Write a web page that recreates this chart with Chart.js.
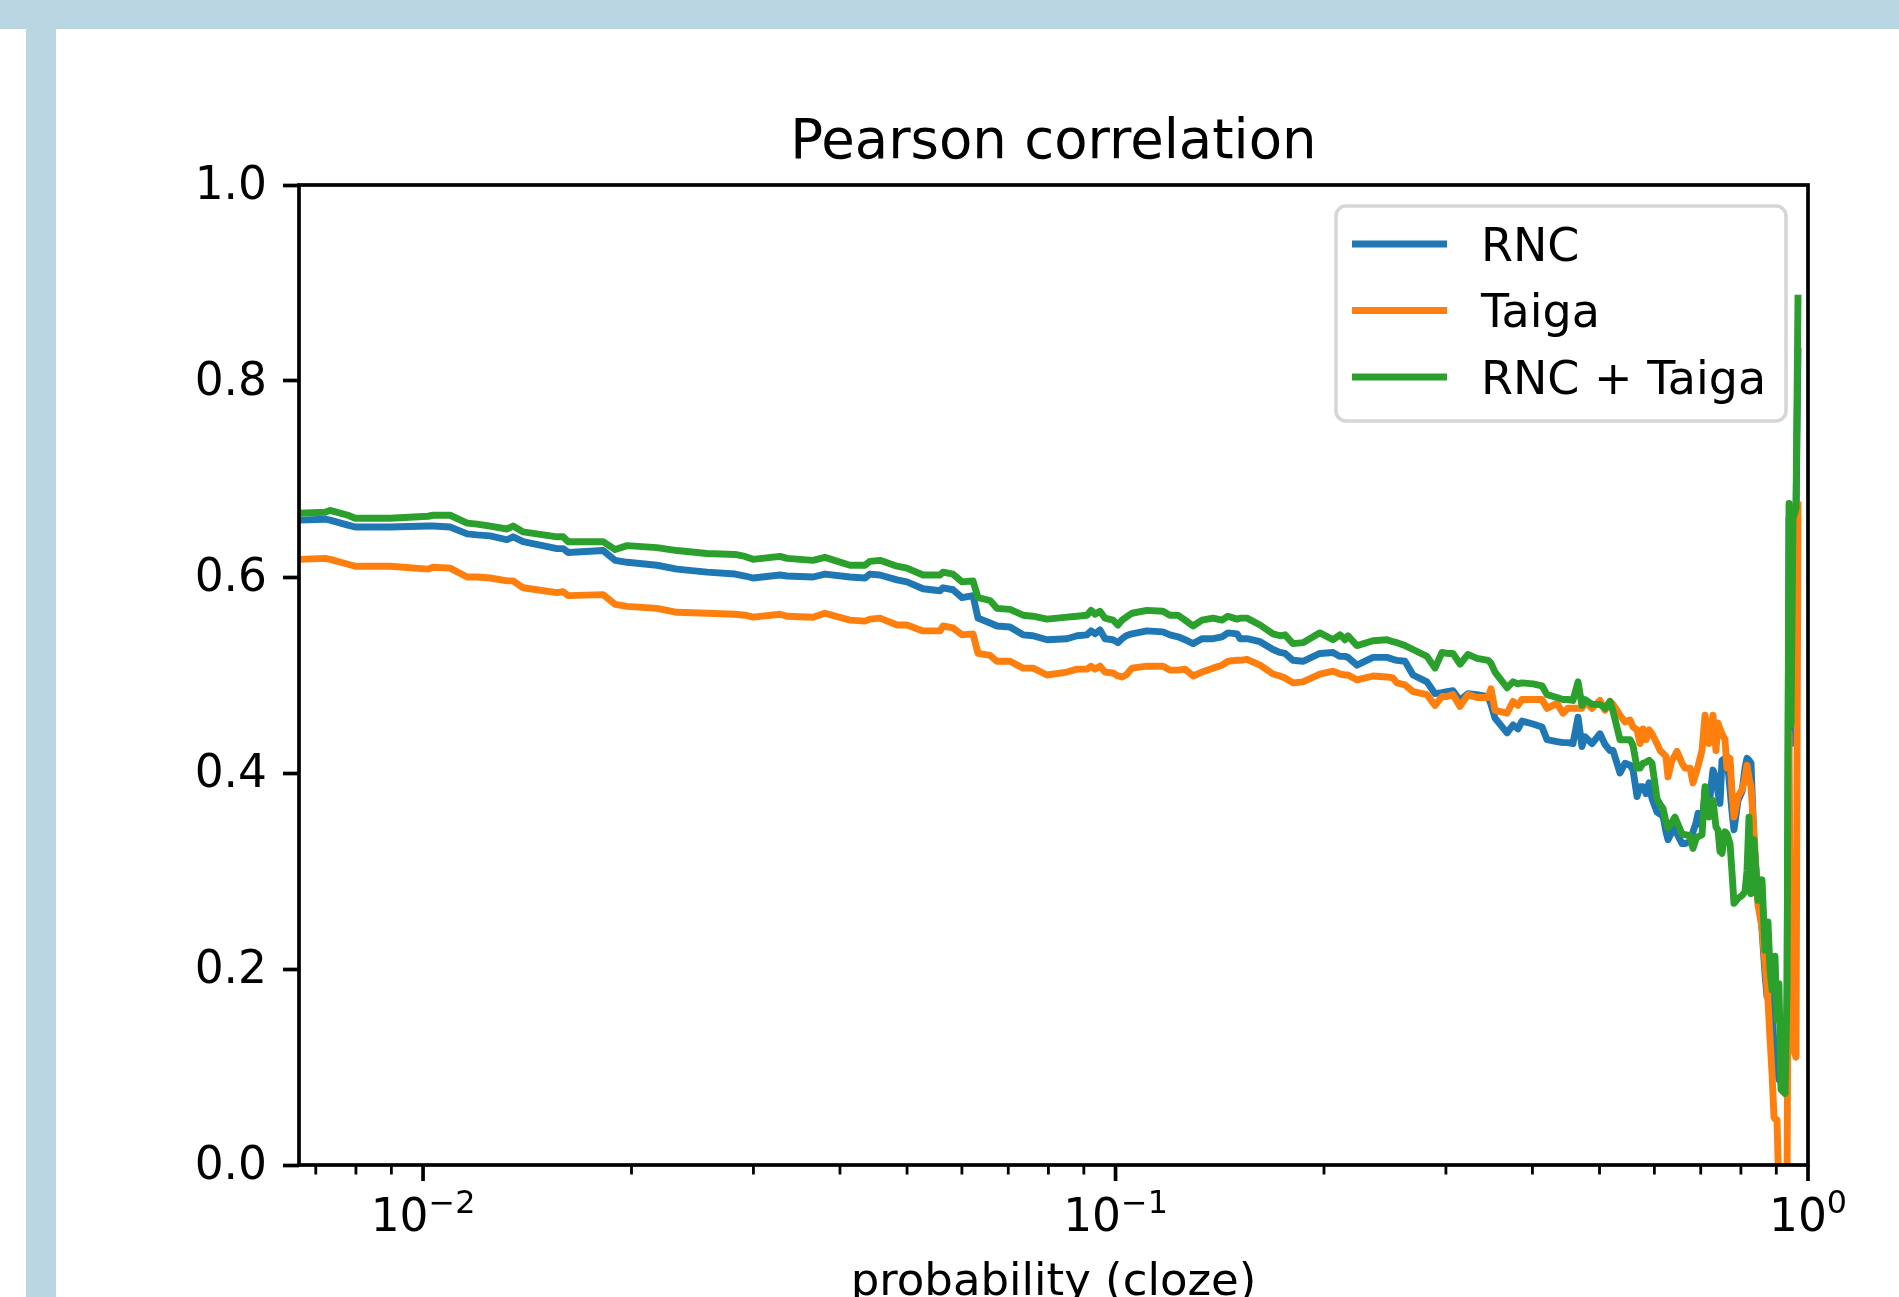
<!DOCTYPE html>
<html><head><meta charset="utf-8">
<script src="https://cdn.jsdelivr.net/npm/chart.js@4.4.1/dist/chart.umd.min.js"></script>
<style>
html,body{margin:0;padding:0;background:#fff;overflow:hidden;}
#wrap{position:relative;width:1899px;height:1297px;background:#fff;}
#topband{position:absolute;left:0;top:0;width:1899px;height:29px;background:#bad6e3;}
#leftbar{position:absolute;left:26px;top:29px;width:30px;height:1268px;background:#bad6e3;}
canvas{position:absolute;left:0;top:0;}
</style></head><body>
<div id="wrap"><div id="topband"></div><div id="leftbar"></div><canvas id="c" width="1899" height="1297"></canvas></div>
<script>
// ---- data ----
const probability = [
0.00662,0.00722,0.00734,0.00779,0.00798,0.00896,0.01017,0.01034,0.01094,0.01158,
0.01197,0.0125,0.01322,0.01349,0.01395,0.01561,0.01593,0.0162,0.0182,0.01894,
0.01971,0.02177,0.02326,0.02571,0.02822,0.02917,0.02996,0.03277,0.03354,0.03657,
0.03805,0.04135,0.04347,0.0442,0.04569,0.04835,0.04998,0.05272,0.05579,0.05635,
0.05825,0.06002,0.06226,0.0633,0.06589,0.06744,0.07041,0.07352,0.07601,0.07963,
0.08511,0.08798,0.09095,0.09217,0.09341,0.09497,0.09656,0.09917,0.1008,0.1022,
0.1036,0.1056,0.111,0.1171,0.1198,0.1231,0.126,0.1294,0.1333,0.1383,
0.1425,0.1453,0.1498,0.1513,0.1548,0.1617,0.1688,0.1728,0.1757,0.1804,
0.1865,0.1973,0.2061,0.2109,0.2145,0.2166,0.2232,0.2354,0.2466,0.2515,
0.2549,0.2618,0.2689,0.2817,0.2893,0.2961,0.3011,0.3071,0.3144,0.3228,
0.3327,0.3451,0.3485,0.3532,0.3676,0.375,0.3812,0.3864,0.4008,0.4129,
0.4199,0.434,0.4428,0.4502,0.4577,0.4655,0.4716,0.4764,0.4876,0.5007,
0.5092,0.5177,0.5229,0.5352,0.5442,0.5534,0.5589,0.5664,0.572,0.5777,
0.5836,0.5894,0.5953,0.6052,0.6114,0.6175,0.6236,0.6278,0.6362,0.6426,
0.6469,0.6578,0.6644,0.6755,0.6822,0.6892,0.6938,0.703,0.7101,0.7194,
0.7291,0.7364,0.7413,0.7463,0.7513,0.7588,0.7638,0.7716,0.7768,0.7818,
0.7923,0.803,0.811,0.8164,0.8219,0.8274,0.8356,0.8412,0.8468,0.8582,
0.8668,0.8726,0.8754,0.8812,0.8872,0.8931,0.896,0.902,0.908,0.9141,
0.9264,0.9326,0.9389,0.9451,0.9513,0.9609,0.9674];

const rnc = [
.658,.659,.658,.653,.651,.651,.652,.652,.651,.644,
.643,.642,.638,.641,.636,.629,.629,.625,.627,.617,
.615,.612,.608,.605,.603,.601,.599,.602,.601,.600,
.603,.600,.599,.603,.602,.597,.595,.588,.586,.589,
.587,.579,.581,.558,.553,.550,.549,.541,.540,.536,
.537,.540,.541,.545,.542,.546,.537,.536,.533,.537,
.540,.542,.545,.544,.541,.539,.536,.532,.537,.537,
.539,.543,.542,.537,.537,.534,.526,.523,.522,.515,
.514,.522,.523,.519,.519,.518,.510,.518,.518,.516,
.515,.514,.500,.493,.481,.482,.483,.484,.474,.481,
.480,.478,.470,.456,.441,.449,.445,.453,.450,.447,
.434,.432,.431,.431,.430,.457,.427,.437,.430,.440,
.429,.423,.423,.400,.410,.408,.403,.376,.386,.386,
.379,.390,.374,.360,.358,.356,.340,.332,.340,.345,
.338,.328,.328,.330,.340,.349,.359,.345,.383,.366,
.403,.395,.380,.369,.413,.415,.417,.383,.360,.342,
.372,.381,.405,.415,.413,.410,.328,.300,.284,.240,
.195,.172,.175,.182,.150,.125,.117,.095,.087,.085,
.083,.151,.660,.430,.640,.660,.834];

const taiga = [
.618,.619,.618,.613,.611,.611,.608,.610,.609,.600,
.600,.599,.596,.596,.589,.584,.585,.581,.582,.572,
.570,.568,.564,.563,.562,.561,.559,.562,.560,.559,
.563,.556,.555,.557,.558,.551,.551,.545,.545,.550,
.548,.541,.542,.522,.520,.514,.514,.507,.507,.500,
.503,.506,.506,.509,.506,.509,.503,.502,.499,.498,
.500,.507,.509,.509,.505,.505,.506,.499,.503,.507,
.510,.514,.515,.515,.516,.510,.501,.499,.497,.492,
.493,.501,.504,.501,.500,.500,.495,.499,.498,.497,
.492,.490,.483,.480,.469,.478,.478,.480,.468,.480,
.477,.477,.486,.464,.461,.473,.469,.475,.475,.475,
.466,.471,.461,.466,.466,.466,.466,.473,.466,.474,
.464,.473,.470,.459,.452,.454,.447,.444,.430,.445,
.434,.444,.440,.430,.423,.420,.417,.396,.413,.418,
.422,.410,.405,.405,.390,.400,.407,.423,.459,.430,
.459,.423,.451,.445,.440,.434,.405,.415,.380,.355,
.376,.383,.395,.408,.395,.386,.340,.300,.265,.243,
.206,.180,.168,.130,.094,.049,.047,.046,-0.03,-0.03,
-0.03,-0.03,.440,.120,.120,.110,.677];

const rncTaiga = [
.665,.666,.668,.663,.660,.660,.662,.663,.663,.655,
.654,.652,.649,.652,.646,.641,.641,.636,.636,.628,
.632,.630,.627,.624,.623,.621,.618,.621,.619,.617,
.620,.612,.612,.616,.617,.611,.609,.602,.602,.605,
.603,.595,.596,.579,.576,.568,.567,.561,.560,.557,
.559,.560,.561,.566,.562,.565,.558,.556,.551,.556,
.559,.563,.566,.565,.561,.561,.556,.550,.556,.558,
.556,.560,.557,.558,.558,.551,.542,.540,.541,.532,
.533,.543,.536,.541,.536,.540,.530,.535,.536,.534,
.533,.530,.526,.519,.507,.523,.522,.522,.511,.521,
.517,.515,.512,.503,.487,.493,.491,.492,.491,.489,
.480,.477,.475,.475,.474,.493,.469,.475,.470,.470,
.466,.473,.463,.434,.434,.434,.428,.405,.405,.410,
.411,.413,.410,.374,.368,.364,.350,.344,.350,.355,
.350,.338,.337,.336,.323,.333,.335,.337,.386,.355,
.372,.345,.342,.320,.318,.340,.338,.328,.298,.267,
.272,.275,.279,.300,.355,.277,.332,.300,.270,.291,
.219,.240,.248,.200,.179,.200,.213,.148,.185,.077,
.073,.176,.675,.450,.660,.670,.888];

const seriesNames = ['RNC', 'Taiga', 'RNC + Taiga'];
const seriesColors = ['#1f77b4', '#ff7f0e', '#2ca02c'];
const chartTitle = 'Pearson correlation';
const xAxisTitle = 'probability (cloze)';
const xMin = 0.00662, xMax = 1.0;
const yTicks = [0, 0.2, 0.4, 0.6, 0.8, 1.0];
const yTickLabels = ['0.0', '0.2', '0.4', '0.6', '0.8', '1.0'];
const xMajorTicks = [0.01, 0.1, 1];
const xMajorBase = ['10', '10', '10'];
const xMajorExponents = ['\u22122', '\u22121', '0'];
const xMinorTicks = [0.007,0.008,0.009,0.02,0.03,0.04,0.05,0.06,0.07,0.08,0.09,0.2,0.3,0.4,0.5,0.6,0.7,0.8,0.9];

// ---- drawing ----
const FONT = '"DejaVu Sans"';
const series = [rnc, taiga, rncTaiga];

const decor = {
  id: 'decor',
  afterDraw(chart) {
    const ctx = chart.ctx, ca = chart.chartArea, xs = chart.scales.x;
    ctx.save();
    // frame (spines)
    ctx.strokeStyle = '#000'; ctx.lineWidth = 3.7;
    ctx.strokeRect(ca.left, ca.top, ca.right - ca.left, ca.bottom - ca.top);
    // x ticks
    ctx.lineCap = 'butt';
    ctx.lineWidth = 2.8;
    for (const v of xMinorTicks) {
      if (v < xMin || v > xMax) continue;
      const px = xs.getPixelForValue(v);
      ctx.beginPath(); ctx.moveTo(px, ca.bottom); ctx.lineTo(px, ca.bottom + 9.5); ctx.stroke();
    }
    ctx.lineWidth = 3.7;
    ctx.fillStyle = '#000';
    ctx.textBaseline = 'alphabetic';
    xMajorTicks.forEach((v, i) => {
      const px = xs.getPixelForValue(v);
      ctx.beginPath(); ctx.moveTo(px, ca.bottom); ctx.lineTo(px, ca.bottom + 16); ctx.stroke();
      ctx.font = '45.5px ' + FONT;
      const w1 = ctx.measureText(xMajorBase[i]).width;
      ctx.font = '31.8px ' + FONT;
      const w2 = ctx.measureText(xMajorExponents[i]).width;
      const start = px - (w1 + w2) / 2;
      ctx.textAlign = 'left';
      ctx.font = '45.5px ' + FONT;
      ctx.fillText(xMajorBase[i], start, ca.bottom + 66);
      ctx.font = '31.8px ' + FONT;
      ctx.fillText(xMajorExponents[i], start + w1, ca.bottom + 48);
    });
    // title
    ctx.textAlign = 'center';
    ctx.font = '54.5px ' + FONT;
    ctx.fillText(chartTitle, (ca.left + ca.right) / 2, ca.top - 27);
    // x axis title
    ctx.font = '45px ' + FONT;
    ctx.fillText(xAxisTitle, (ca.left + ca.right) / 2, ca.bottom + 130);
    // legend
    const bx = ca.right - 472, by = ca.top + 21, bw = 450, bh = 215;
    ctx.beginPath();
    ctx.roundRect(bx, by, bw, bh, 10);
    ctx.fillStyle = 'rgba(255,255,255,0.8)';
    ctx.fill();
    ctx.strokeStyle = '#d6d6d6'; ctx.lineWidth = 3.5;
    ctx.stroke();
    ctx.textAlign = 'left';
    ctx.font = '46px ' + FONT;
    seriesNames.forEach((name, i) => {
      const ly = ca.top + 59 + i * 66.5;
      ctx.strokeStyle = seriesColors[i]; ctx.lineWidth = 6.9; ctx.lineCap = 'butt';
      ctx.beginPath(); ctx.moveTo(ca.right - 456, ly); ctx.lineTo(ca.right - 361, ly); ctx.stroke();
      ctx.fillStyle = '#000';
      ctx.fillText(name, ca.right - 327, ly + 16.5);
    });
    ctx.restore();
  }
};

Chart.defaults.color = '#000';
Chart.defaults.font.family = FONT;

new Chart(document.getElementById('c'), {
  type: 'line',
  data: {
    datasets: series.map((s, i) => ({
      label: seriesNames[i],
      data: probability.map((p, j) => ({ x: p, y: s[j] })),
      borderColor: seriesColors[i],
      backgroundColor: seriesColors[i],
      borderWidth: 6.9,
      pointRadius: 0,
      fill: false,
      tension: 0,
      order: 3 - i,
      clip: 0,
      borderJoinStyle: 'round',
      borderCapStyle: 'butt'
    }))
  },
  options: {
    responsive: false,
    animation: false,
    devicePixelRatio: 1,
    layout: { padding: { left: 0, top: 185, right: 91, bottom: 132 } },
    plugins: { legend: { display: false }, title: { display: false }, tooltip: { enabled: false } },
    scales: {
      x: {
        type: 'logarithmic', min: xMin, max: xMax,
        ticks: { display: false },
        grid: { display: false },
        border: { display: false },
        afterFit: s => { s.height = 0; }
      },
      y: {
        type: 'linear', min: 0, max: 1,
        afterBuildTicks: s => { s.ticks = yTicks.map(v => ({ value: v })); },
        ticks: {
          callback: v => yTickLabels[yTicks.findIndex(t => Math.abs(t - v) < 1e-9)],
          font: { family: FONT, size: 45.5 }, color: '#000', padding: 16, labelOffset: 2
        },
        grid: { drawOnChartArea: false, drawTicks: true, tickLength: 16, tickWidth: 3.7, tickColor: '#000' },
        border: { display: false },
        afterFit: s => { s.width = 299; }
      }
    }
  },
  plugins: [decor]
});
</script>
</body></html>
